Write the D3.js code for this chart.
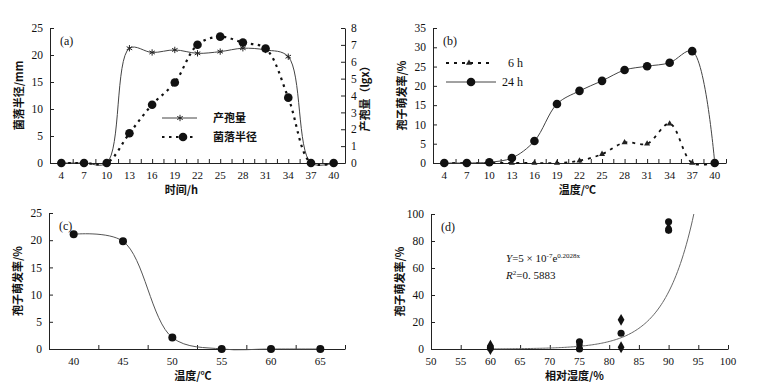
<!DOCTYPE html>
<html>
<head>
<meta charset="utf-8">
<script src="https://cdn.jsdelivr.net/npm/d3@7"></script>
<style>
body { margin: 0; background: #fff; }
text { font-family: "Liberation Serif", "Noto Sans CJK SC", serif; fill: #111; }
.cn { font-family: "Noto Sans CJK SC", sans-serif; font-weight: bold; }
</style>
</head>
<body>
<script>
const width = 757, height = 392;

// (a) time course
const hoursA = [4, 7, 10, 13, 16, 19, 22, 25, 28, 31, 34, 37, 40];
const radiusA = [0, 0, 0, 5.5, 10.8, 14.9, 21.9, 23.4, 22.3, 21.2, 12.1, 0, 0];
const sporeA = [0, 0, 0, 6.8, 6.55, 6.7, 6.5, 6.6, 6.8, 6.7, 6.3, 0, 0];

// (b) temperature, 6 h and 24 h
const tempB = [4, 7, 10, 13, 16, 19, 22, 25, 28, 31, 34, 37, 40];
const germ6h = [0, 0, 0, 0, 0, 0, 0.6, 2.3, 5.3, 5.0, 10.2, 0, 0];
const germ24h = [0, 0, 0.2, 1.3, 5.7, 15.3, 18.7, 21.3, 24.1, 25.1, 26.0, 29.0, 0];

// (c) high temperature
const tempC = [40, 45, 50, 55, 60, 65];
const germC = [21.1, 19.8, 2.1, 0, 0, 0];

// (d) relative humidity
const humD = [60, 60, 60, 75, 75, 75, 82, 82, 82, 90, 90, 90];
const germD = [0, 0.8, 2.4, 0, 3, 5.3, 1.3, 11.7, 21.6, 88, 89.5, 94.3];
const fitA = 5e-7, fitB = 0.2028;

const svg = d3.select("body").append("svg").attr("width", width).attr("height", height);

function ticksBetween(lo, hi, step) {
    const t = [];
    for (let v = lo; v <= hi + 1e-9; v += step) t.push(v);
    return t;
}

function panel(o) {
    const g = svg.append("g");
    const x = d3.scaleLinear().domain(o.xDomain).range([o.left, o.right]);
    const y = d3.scaleLinear().domain(o.yDomain).range([o.bottom, o.top]);
    // x axis line with inward tick marks (labels drawn separately)
    g.append("g").attr("transform", `translate(0,${o.bottom})`)
        .call(d3.axisBottom(x).tickValues(o.xTickMarks).tickFormat("").tickSize(-4).tickSizeOuter(0))
        .call(a => a.selectAll(".domain, line").attr("stroke", "#222"));
    g.selectAll(null).data(o.xLabels).enter().append("text")
        .attr("x", d => x(d)).attr("y", o.bottom + 16)
        .attr("text-anchor", "middle").attr("font-size", 11).text(d => d);
    g.append("g").attr("transform", `translate(${o.left},0)`)
        .call(d3.axisLeft(y).tickValues(o.yTicks).tickSize(-4).tickSizeOuter(0).tickPadding(7))
        .call(a => { a.selectAll(".domain, line").attr("stroke", "#222");
            a.selectAll("text").attr("font-size", 11.5).style("font-family", "Liberation Serif"); });
    g.append("text").attr("class", "cn").attr("font-size", 11)
        .attr("x", (o.left + o.right) / 2 + (o.xLabelShift || 0)).attr("y", o.bottom + 31)
        .attr("text-anchor", "middle").text(o.xTitle);
    g.append("text").attr("class", "cn").attr("font-size", 11)
        .attr("transform", `translate(${o.left - 27},${(o.top + o.bottom) / 2}) rotate(-90)`)
        .attr("text-anchor", "middle").text(o.yTitle);
    g.append("text").attr("x", o.left + 10).attr("y", o.top + 17).attr("font-size", 12).text(o.tag);
    return { g, x, y };
}

const curve = d3.curveCatmullRom.alpha(0.5);

// ---------- (a)
{
    const p = panel({
        left: 50, right: 345, top: 28, bottom: 163,
        xDomain: [2.5, 41.5], yDomain: [0, 25],
        xTickMarks: ticksBetween(2.5, 41.5, 1.5), xLabels: hoursA,
        yTicks: ticksBetween(0, 25, 5),
        xTitle: "时间/h", yTitle: "菌落半径/mm", tag: "(a)", xLabelShift: -16
    });
    const y2 = d3.scaleLinear().domain([0, 8]).range([163, 28]);
    p.g.append("g").attr("transform", "translate(345,0)")
        .call(d3.axisRight(y2).ticks(8).tickSize(-4).tickSizeOuter(0).tickPadding(6))
        .call(a => { a.selectAll(".domain, line").attr("stroke", "#222");
            a.selectAll("text").attr("font-size", 11.5).style("font-family", "Liberation Serif"); });
    p.g.append("text").attr("class", "cn").attr("font-size", 11)
        .attr("transform", "translate(369,96) rotate(-90)").attr("text-anchor", "middle").text("产孢量（lgx）");

    const lineS = d3.line().x((d, i) => p.x(hoursA[i])).y(d => y2(d)).curve(curve);
    p.g.append("path").attr("d", lineS(sporeA)).attr("fill", "none").attr("stroke", "#444").attr("stroke-width", 1);
    const lineR = d3.line().x((d, i) => p.x(hoursA[i])).y(d => p.y(d)).curve(curve);
    p.g.append("path").attr("d", lineR(radiusA)).attr("fill", "none").attr("stroke", "#111")
        .attr("stroke-width", 2.2).attr("stroke-dasharray", "2.5,4.5");
    const star = d3.symbol().type(d3.symbolAsterisk).size(28);
    p.g.selectAll(null).data(sporeA).enter().append("path")
        .attr("d", star).attr("transform", (d, i) => `translate(${p.x(hoursA[i])},${y2(d)})`)
        .attr("fill", "none").attr("stroke", "#222").attr("stroke-width", 1);
    p.g.selectAll(null).data(radiusA).enter().append("circle")
        .attr("cx", (d, i) => p.x(hoursA[i])).attr("cy", d => p.y(d)).attr("r", 4.3).attr("fill", "#111");

    // legend
    p.g.append("line").attr("x1", 162).attr("x2", 197).attr("y1", 118).attr("y2", 118).attr("stroke", "#444");
    p.g.append("path").attr("d", star).attr("transform", "translate(180,118)").attr("fill", "none").attr("stroke", "#222");
    p.g.append("text").attr("class", "cn").attr("x", 213).attr("y", 122).attr("font-size", 11).text("产孢量");
    p.g.append("line").attr("x1", 162).attr("x2", 197).attr("y1", 137).attr("y2", 137).attr("stroke", "#111")
        .attr("stroke-width", 2.2).attr("stroke-dasharray", "2.5,4.5");
    p.g.append("circle").attr("cx", 183).attr("cy", 137).attr("r", 4.3).attr("fill", "#111");
    p.g.append("text").attr("class", "cn").attr("x", 213).attr("y", 141).attr("font-size", 11).text("菌落半径");
}

// ---------- (b)
{
    const p = panel({
        left: 433, right: 726, top: 28, bottom: 163,
        xDomain: [2.5, 41.5], yDomain: [0, 35],
        xTickMarks: ticksBetween(2.5, 41.5, 1.5), xLabels: tempB,
        yTicks: ticksBetween(0, 35, 5),
        xTitle: "温度/℃", yTitle: "孢子萌发率/%", tag: "(b)", xLabelShift: -2
    });
    const line6 = d3.line().x((d, i) => p.x(tempB[i])).y(d => p.y(d)).curve(curve);
    p.g.append("path").attr("d", line6(germ6h)).attr("fill", "none").attr("stroke", "#111")
        .attr("stroke-width", 1.8).attr("stroke-dasharray", "3,5");
    p.g.append("path").attr("d", line6(germ24h)).attr("fill", "none").attr("stroke", "#444").attr("stroke-width", 1);
    const tri = d3.symbol().type(d3.symbolTriangle).size(16);
    p.g.selectAll(null).data(germ6h).enter().append("path")
        .attr("d", tri).attr("transform", (d, i) => `translate(${p.x(tempB[i])},${p.y(d)})`).attr("fill", "#222");
    p.g.selectAll(null).data(germ24h).enter().append("circle")
        .attr("cx", (d, i) => p.x(tempB[i])).attr("cy", d => p.y(d)).attr("r", 4.3).attr("fill", "#111");

    p.g.append("line").attr("x1", 446).attr("x2", 491).attr("y1", 63).attr("y2", 63).attr("stroke", "#111")
        .attr("stroke-width", 1.8).attr("stroke-dasharray", "3,5");
    p.g.append("path").attr("d", tri).attr("transform", "translate(469,63)").attr("fill", "#222");
    p.g.append("text").attr("x", 508).attr("y", 67).attr("font-size", 12).text("6  h");
    p.g.append("line").attr("x1", 446).attr("x2", 496).attr("y1", 82).attr("y2", 82).attr("stroke", "#444");
    p.g.append("circle").attr("cx", 471).attr("cy", 82).attr("r", 4.3).attr("fill", "#111");
    p.g.append("text").attr("x", 502).attr("y", 86).attr("font-size", 12).text("24  h");
}

// ---------- (c)
{
    const p = panel({
        left: 49, right: 345, top: 213, bottom: 349,
        xDomain: [37.5, 67.5], yDomain: [0, 25],
        xTickMarks: ticksBetween(37.5, 67.5, 5), xLabels: tempC,
        yTicks: ticksBetween(0, 25, 5),
        xTitle: "温度/℃", yTitle: "孢子萌发率/%", tag: "(c)", xLabelShift: -4
    });
    const lineC = d3.line().x((d, i) => p.x(tempC[i])).y(d => p.y(d)).curve(curve);
    p.g.append("path").attr("d", lineC(germC)).attr("fill", "none").attr("stroke", "#555").attr("stroke-width", 1);
    p.g.selectAll(null).data(germC).enter().append("circle")
        .attr("cx", (d, i) => p.x(tempC[i])).attr("cy", d => p.y(d)).attr("r", 4).attr("fill", "#111");
}

// ---------- (d)
{
    const p = panel({
        left: 431, right: 728, top: 214, bottom: 349,
        xDomain: [50, 100], yDomain: [0, 100],
        xTickMarks: ticksBetween(50, 100, 5), xLabels: ticksBetween(50, 100, 5),
        yTicks: ticksBetween(0, 100, 20),
        xTitle: "相对湿度/%", yTitle: "孢子萌发率/%", tag: "(d)", xLabelShift: -5
    });
    const xEnd = Math.log(100 / fitA) / fitB;
    const fx = d3.range(60, xEnd, 0.25).concat([xEnd]);
    const lineD = d3.line().x(d => p.x(d)).y(d => p.y(fitA * Math.exp(fitB * d)));
    p.g.append("path").attr("d", lineD(fx)).attr("fill", "none").attr("stroke", "#666").attr("stroke-width", 1);
    const dia = d3.symbol().type(d3.symbolDiamond).size(40);
    p.g.selectAll(null).data(germD).enter().append("path")
        .attr("d", (d, i) => i % 2 ? d3.symbol().type(d3.symbolCircle).size(40)() : dia())
        .attr("transform", (d, i) => `translate(${p.x(humD[i])},${p.y(d)})`).attr("fill", "#111");
    const eq = p.g.append("text").attr("x", 506).attr("y", 262).attr("font-size", 11).attr("font-style", "italic");
    eq.append("tspan").text("Y");
    eq.append("tspan").attr("font-style", "normal").text("=5 × 10");
    eq.append("tspan").attr("font-style", "normal").attr("font-size", 7).attr("dy", -4).text("-7");
    eq.append("tspan").attr("font-style", "normal").attr("dy", 4).text("e");
    eq.append("tspan").attr("font-style", "normal").attr("font-size", 7).attr("dy", -4).text("0.2028x");
    const r2 = p.g.append("text").attr("x", 506).attr("y", 279).attr("font-size", 11);
    r2.append("tspan").attr("font-style", "italic").text("R");
    r2.append("tspan").attr("font-size", 7).attr("dy", -4).text("2");
    r2.append("tspan").attr("dy", 4).text("=0. 5883");
}
</script>
</body>
</html>
